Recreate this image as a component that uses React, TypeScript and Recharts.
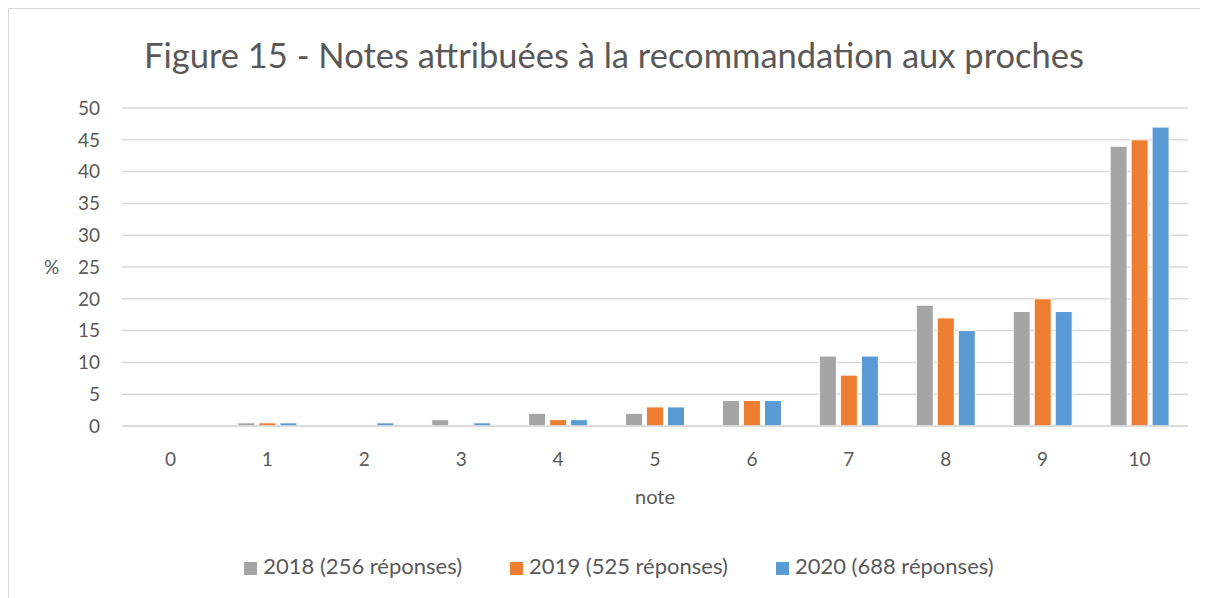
import { Bar, BarChart, CartesianGrid, Legend, XAxis, YAxis } from "recharts";

const notes = ["0", "1", "2", "3", "4", "5", "6", "7", "8", "9", "10"];
const y2018 = [0, 0.5, 0, 1, 2, 2, 4, 11, 19, 18, 44];
const y2019 = [0, 0.5, 0, 0, 1, 3, 4, 8, 17, 20, 45];
const y2020 = [0, 0.5, 0.5, 0.5, 1, 3, 4, 11, 15, 18, 47];
const yTicks = [0, 5, 10, 15, 20, 25, 30, 35, 40, 45, 50];

const data = notes.map((note, i) => ({
  note,
  a: y2018[i],
  b: y2019[i],
  c: y2020[i],
}));

const font = "Lato, 'Open Sans', sans-serif";
const txt = "#595959";

export default function App() {
  return (
    <div
      style={{
        position: "relative",
        width: 1200,
        height: 590,
        borderTop: "1px solid #d9d9d9",
        borderLeft: "1px solid #d9d9d9",
        fontFamily: font,
        boxSizing: "border-box",
      }}
    >
      <div
        style={{
          position: "absolute",
          top: 25,
          left: 0,
          width: 1210,
          textAlign: "center",
          fontSize: 34.5,
          color: txt,
        }}
      >
        Figure 15 - Notes attribuées à la recommandation aux proches
      </div>
      <BarChart
        width={1200}
        height={590}
        data={data}
        barSize={17}
        barGap={4}
        margin={{ top: 100, right: 20, left: 36, bottom: 67 }}
        style={{ position: "absolute", top: -1, left: -1 }}
      >
        <CartesianGrid vertical={false} stroke="#d9d9d9" strokeWidth={1.5} />
        <XAxis
          dataKey="note"
          tickLine={false}
          tickSize={0}
          tickMargin={27}
          axisLine={{ stroke: "#d9d9d9", strokeWidth: 1.5 }}
          tick={{ fill: txt, fontSize: 19, fontFamily: font }}
          height={78}
          label={{ value: "note", position: "insideBottom", offset: 0, fill: txt, fontSize: 20, fontFamily: font }}
        />
        <YAxis
          domain={[0, 50]}
          ticks={yTicks}
          interval={0}
          width={78}
          axisLine={false}
          tickLine={false}
          tickSize={0}
          tickMargin={22}
          tick={{ fill: txt, fontSize: 19, fontFamily: font }}
          label={{ value: "%", position: "insideLeft", offset: 0, fill: txt, fontSize: 19, fontFamily: font }}
        />
        <Legend
          verticalAlign="bottom"
          iconType="square"
          iconSize={13}
          wrapperStyle={{ fontSize: 22, fontFamily: font, color: txt, bottom: 19, left: 44 }}
          formatter={(v, _e, i) => (
            <span style={{ color: txt, marginRight: i < 2 ? 38 : 0, marginLeft: 2 }}>{v}</span>
          )}
        />
        <Bar dataKey="a" name="2018 (256 réponses)" fill="#a5a5a5" stroke="#fff" strokeWidth={1} isAnimationActive={false} />
        <Bar dataKey="b" name="2019 (525 réponses)" fill="#ed7d31" stroke="#fff" strokeWidth={1} isAnimationActive={false} />
        <Bar dataKey="c" name="2020 (688 réponses)" fill="#5b9bd5" stroke="#fff" strokeWidth={1} isAnimationActive={false} />
      </BarChart>
    </div>
  );
}
